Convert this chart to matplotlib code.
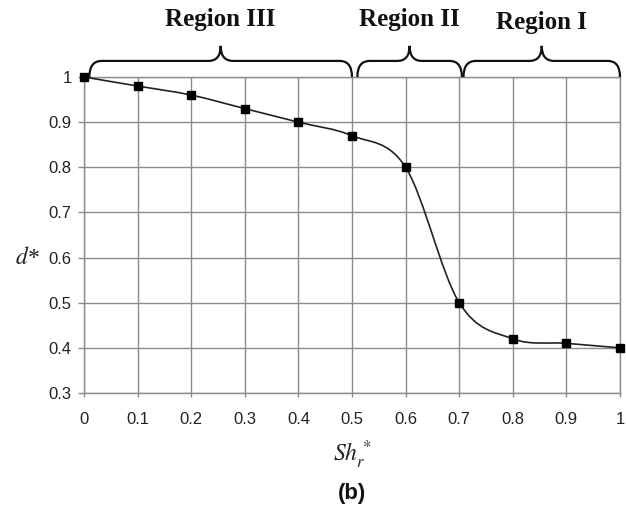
import matplotlib
matplotlib.use("Agg")
import matplotlib.pyplot as plt
from matplotlib.path import Path
from matplotlib.patches import PathPatch

# data
sh_r = [0.0, 0.1, 0.2, 0.3, 0.4, 0.5, 0.6, 0.7, 0.8, 0.9, 1.0]
d_star = [1.0, 0.98, 0.96, 0.93, 0.90, 0.87, 0.80, 0.50, 0.42, 0.41, 0.40]

x_ticks = [0, 0.1, 0.2, 0.3, 0.4, 0.5, 0.6, 0.7, 0.8, 0.9, 1]
x_tick_labels = ["0", "0.1", "0.2", "0.3", "0.4", "0.5", "0.6", "0.7", "0.8", "0.9", "1"]
y_ticks = [0.3, 0.4, 0.5, 0.6, 0.7, 0.8, 0.9, 1.0]
y_tick_labels = ["0.3", "0.4", "0.5", "0.6", "0.7", "0.8", "0.9", "1"]

region_names = ["Region III", "Region II", "Region I"]
region_spans = [(0.01, 0.5), (0.51, 0.705), (0.708, 1.0)]

plt.rcParams["mathtext.fontset"] = "stix"

W, H = 626, 508
fig = plt.figure(figsize=(W / 100, H / 100), dpi=100)
ax = fig.add_axes([84 / W, 1 - 393 / H, 536 / W, 316 / H])

grid_col = "#8c8c8c"


def smooth_path(xs, ys):
    # excel-like smoothed line: cubic bezier with catmull-rom control points
    pts = list(zip(xs, ys))
    n = len(pts)
    verts = [pts[0]]
    codes = [Path.MOVETO]
    for i in range(n - 1):
        p0 = pts[i - 1] if i > 0 else pts[i]
        p1 = pts[i]
        p2 = pts[i + 1]
        p3 = pts[i + 2] if i + 2 < n else pts[i + 1]
        c1 = (p1[0] + (p2[0] - p0[0]) / 6, p1[1] + (p2[1] - p0[1]) / 6)
        c2 = (p2[0] - (p3[0] - p1[0]) / 6, p2[1] - (p3[1] - p1[1]) / 6)
        verts += [c1, c2, p2]
        codes += [Path.CURVE4] * 3
    return Path(verts, codes)


ax.add_patch(PathPatch(smooth_path(sh_r, d_star), facecolor="none",
                       edgecolor="#222222", lw=1.2, zorder=3))
ax.plot(sh_r, d_star, linestyle="none", marker="s", markersize=6,
        color="black", zorder=4, clip_on=False)

ax.set_xlim(0, 1)
ax.set_ylim(0.3, 1.0)
ax.set_xticks(x_ticks)
ax.set_xticklabels(x_tick_labels)
ax.set_yticks(y_ticks)
ax.set_yticklabels(y_tick_labels)
ax.grid(True, color=grid_col, linewidth=1.0)
ax.set_axisbelow(True)
for spine in ax.spines.values():
    spine.set_color(grid_col)
    spine.set_linewidth(1.0)
ax.tick_params(axis="both", width=1.0, color=grid_col,
               labelsize=12, labelcolor="#222222")
ax.tick_params(axis="x", length=3, pad=11)
ax.tick_params(axis="y", length=4, pad=5)
for lab in ax.get_xticklabels() + ax.get_yticklabels():
    lab.set_family("Liberation Sans")


# curly braces above the plot
def brace(a, b, y0=1.0, y1=1.0356, y2=1.069, r=0.023):
    m = (a + b) / 2
    verts = [(a, y0), (a, y1), (a + r, y1),
             (m - r, y1),
             (m, y1), (m, y2),
             (m, y1), (m + r, y1),
             (b - r, y1),
             (b, y1), (b, y0)]
    codes = [Path.MOVETO, Path.CURVE3, Path.CURVE3,
             Path.LINETO,
             Path.CURVE3, Path.CURVE3,
             Path.CURVE3, Path.CURVE3,
             Path.LINETO,
             Path.CURVE3, Path.CURVE3]
    return Path(verts, codes)


label_y = [1.181, 1.181, 1.171]
for name, (a, b), ly in zip(region_names, region_spans, label_y):
    ax.add_patch(PathPatch(brace(a, b), facecolor="none", edgecolor="#111111",
                           lw=1.6, clip_on=False, zorder=5))
    ax.text((a + b) / 2, ly, name, transform=ax.get_xaxis_transform(),
            ha="center", va="center", fontsize=18, fontweight="bold",
            family="Liberation Serif", color="#111111")

fig.text(28 / W, 1 - 258 / H, "$d$*", ha="center", va="center",
         fontsize=17, family="Liberation Serif", style="italic", color="#222222")
fig.text(352 / W, 1 - 455 / H, "$Sh_r^*$", ha="center", va="center",
         fontsize=17, color="#222222")
fig.text(352 / W, 1 - 493 / H, "(b)", ha="center", va="center",
         fontsize=16, fontweight="bold", family="Liberation Sans", color="#111111")

fig.savefig("out.png", dpi=100)
